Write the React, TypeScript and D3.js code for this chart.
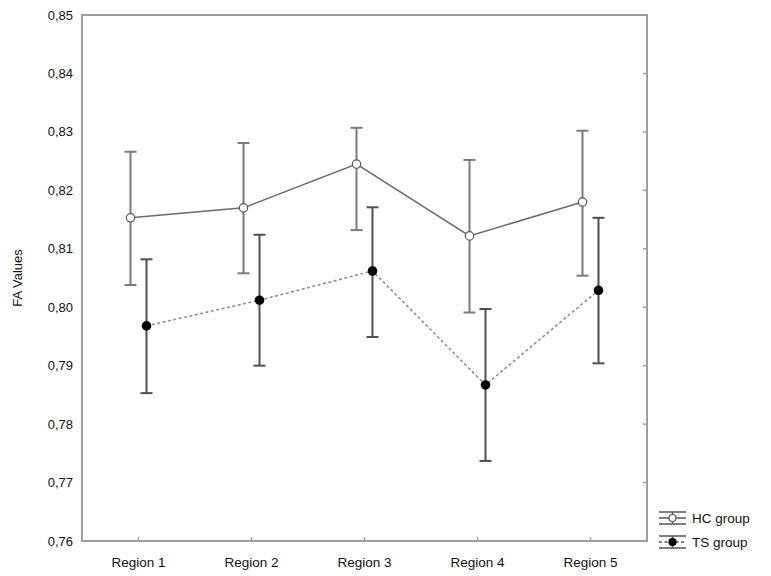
import React from "react";
import * as d3 from "d3";

const regions = ["Region 1", "Region 2", "Region 3", "Region 4", "Region 5"];

// HC group (open circles, solid line)
const hcMean = [0.8153, 0.817, 0.8245, 0.8122, 0.818];
const hcUpper = [0.8266, 0.8281, 0.8307, 0.8252, 0.8302];
const hcLower = [0.8038, 0.8058, 0.8132, 0.7991, 0.8054];

// TS group (filled circles, dotted line)
const tsMean = [0.7968, 0.8012, 0.8062, 0.7867, 0.8029];
const tsUpper = [0.8082, 0.8124, 0.8171, 0.7997, 0.8153];
const tsLower = [0.7853, 0.79, 0.7949, 0.7737, 0.7904];

const yTicks = [0.76, 0.77, 0.78, 0.79, 0.8, 0.81, 0.82, 0.83, 0.84, 0.85];

const W = 771;
const H = 576;
const margin = { top: 15, right: 124, bottom: 35, left: 82 };
const font = "'Liberation Sans', Arial, sans-serif";

export default function App() {
  const x = d3
    .scaleBand<string>()
    .domain(regions)
    .range([margin.left, W - margin.right]);
  const y = d3
    .scaleLinear()
    .domain([0.76, 0.85])
    .range([H - margin.bottom, margin.top]);

  const cx = (r: string) => (x(r) as number) + x.bandwidth() / 2;
  const fmt = (v: number) => d3.format(".2f")(v).replace(".", ",");

  const series = [
    { name: "HC group", mean: hcMean, upper: hcUpper, lower: hcLower, dx: -8, open: true, barColor: "#7a7a7a", lineColor: "#6a6a6a", dash: undefined },
    { name: "TS group", mean: tsMean, upper: tsUpper, lower: tsLower, dx: 8, open: false, barColor: "#4f4f4f", lineColor: "#8a8a8a", dash: "3,2.5" },
  ];

  const line = d3
    .line<number>()
    .x((_, i) => cx(regions[i]))
    .y((d) => y(d));

  const x0 = margin.left;
  const x1 = W - margin.right;
  const yB = H - margin.bottom;
  const yT = margin.top;

  return (
    <svg width={W} height={H} style={{ position: "absolute", left: 0, top: 0, background: "#fff" }}>
      {/* frame */}
      <rect x={x0} y={yT} width={x1 - x0} height={yB - yT} fill="none" stroke="#9e9e9e" strokeWidth={2} />

      {/* right axis inner ticks */}
      {yTicks.map((t) => (
        <line key={"rt" + t} x1={x1 - 4} x2={x1} y1={y(t)} y2={y(t)} stroke="#9e9e9e" strokeWidth={1.5} />
      ))}
      {/* bottom inner ticks */}
      {regions.map((r) => (
        <line key={"bt" + r} x1={cx(r)} x2={cx(r)} y1={yB - 4} y2={yB} stroke="#9e9e9e" strokeWidth={1.5} />
      ))}

      {/* y labels */}
      {yTicks.map((t) => (
        <text key={"yl" + t} x={73} y={y(t)} dy="0.35em" textAnchor="end" fontFamily={font} fontSize={13} fill="#111">
          {fmt(t)}
        </text>
      ))}
      <text
        transform={`translate(22,${(yT + yB) / 2}) rotate(-90)`}
        textAnchor="middle"
        fontFamily={font}
        fontSize={13}
        fill="#111"
      >
        FA Values
      </text>

      {/* x labels */}
      {regions.map((r) => (
        <text key={"xl" + r} x={cx(r)} y={567} textAnchor="middle" fontFamily={font} fontSize={13.5} fill="#111">
          {r}
        </text>
      ))}

      {series.map((s) => (
        <g key={s.name} transform={`translate(${s.dx},0)`}>
          <path d={line(s.mean) as string} fill="none" stroke={s.lineColor} strokeWidth={1.5} strokeDasharray={s.dash} />
          {regions.map((r, i) => (
            <g key={r}>
              <line x1={cx(r)} x2={cx(r)} y1={y(s.upper[i])} y2={y(s.lower[i])} stroke={s.barColor} strokeWidth={2} />
              <line x1={cx(r) - 6} x2={cx(r) + 6} y1={y(s.upper[i])} y2={y(s.upper[i])} stroke={s.barColor} strokeWidth={2} />
              <line x1={cx(r) - 6} x2={cx(r) + 6} y1={y(s.lower[i])} y2={y(s.lower[i])} stroke={s.barColor} strokeWidth={2} />
              <circle
                cx={cx(r)}
                cy={y(s.mean[i])}
                r={4.2}
                fill={s.open ? "#fff" : "#000"}
                stroke={s.open ? "#555" : "#000"}
                strokeWidth={1.2}
              />
            </g>
          ))}
        </g>
      ))}

      {/* legend */}
      {series.map((s, i) => {
        const ly = 518 + i * 24;
        const lx0 = 659;
        const lx1 = 686;
        const lc = (lx0 + lx1) / 2;
        return (
          <g key={"lg" + s.name}>
            <line x1={lx0} x2={lx1} y1={ly - 6} y2={ly - 6} stroke="#555" strokeWidth={1.5} />
            <line x1={lx0} x2={lx1} y1={ly + 6} y2={ly + 6} stroke="#555" strokeWidth={1.5} />
            <line x1={lc} x2={lc} y1={ly - 6} y2={ly + 6} stroke="#555" strokeWidth={1.5} />
            <line x1={lx0} x2={lx1} y1={ly} y2={ly} stroke="#555" strokeWidth={1.5} strokeDasharray={s.dash} />
            <circle cx={lc} cy={ly} r={3.5} fill={s.open ? "#fff" : "#000"} stroke={s.open ? "#555" : "#000"} strokeWidth={1.2} />
            <text x={692} y={ly} dy="0.35em" fontFamily={font} fontSize={13.5} fill="#111">
              {s.name}
            </text>
          </g>
        );
      })}
    </svg>
  );
}
